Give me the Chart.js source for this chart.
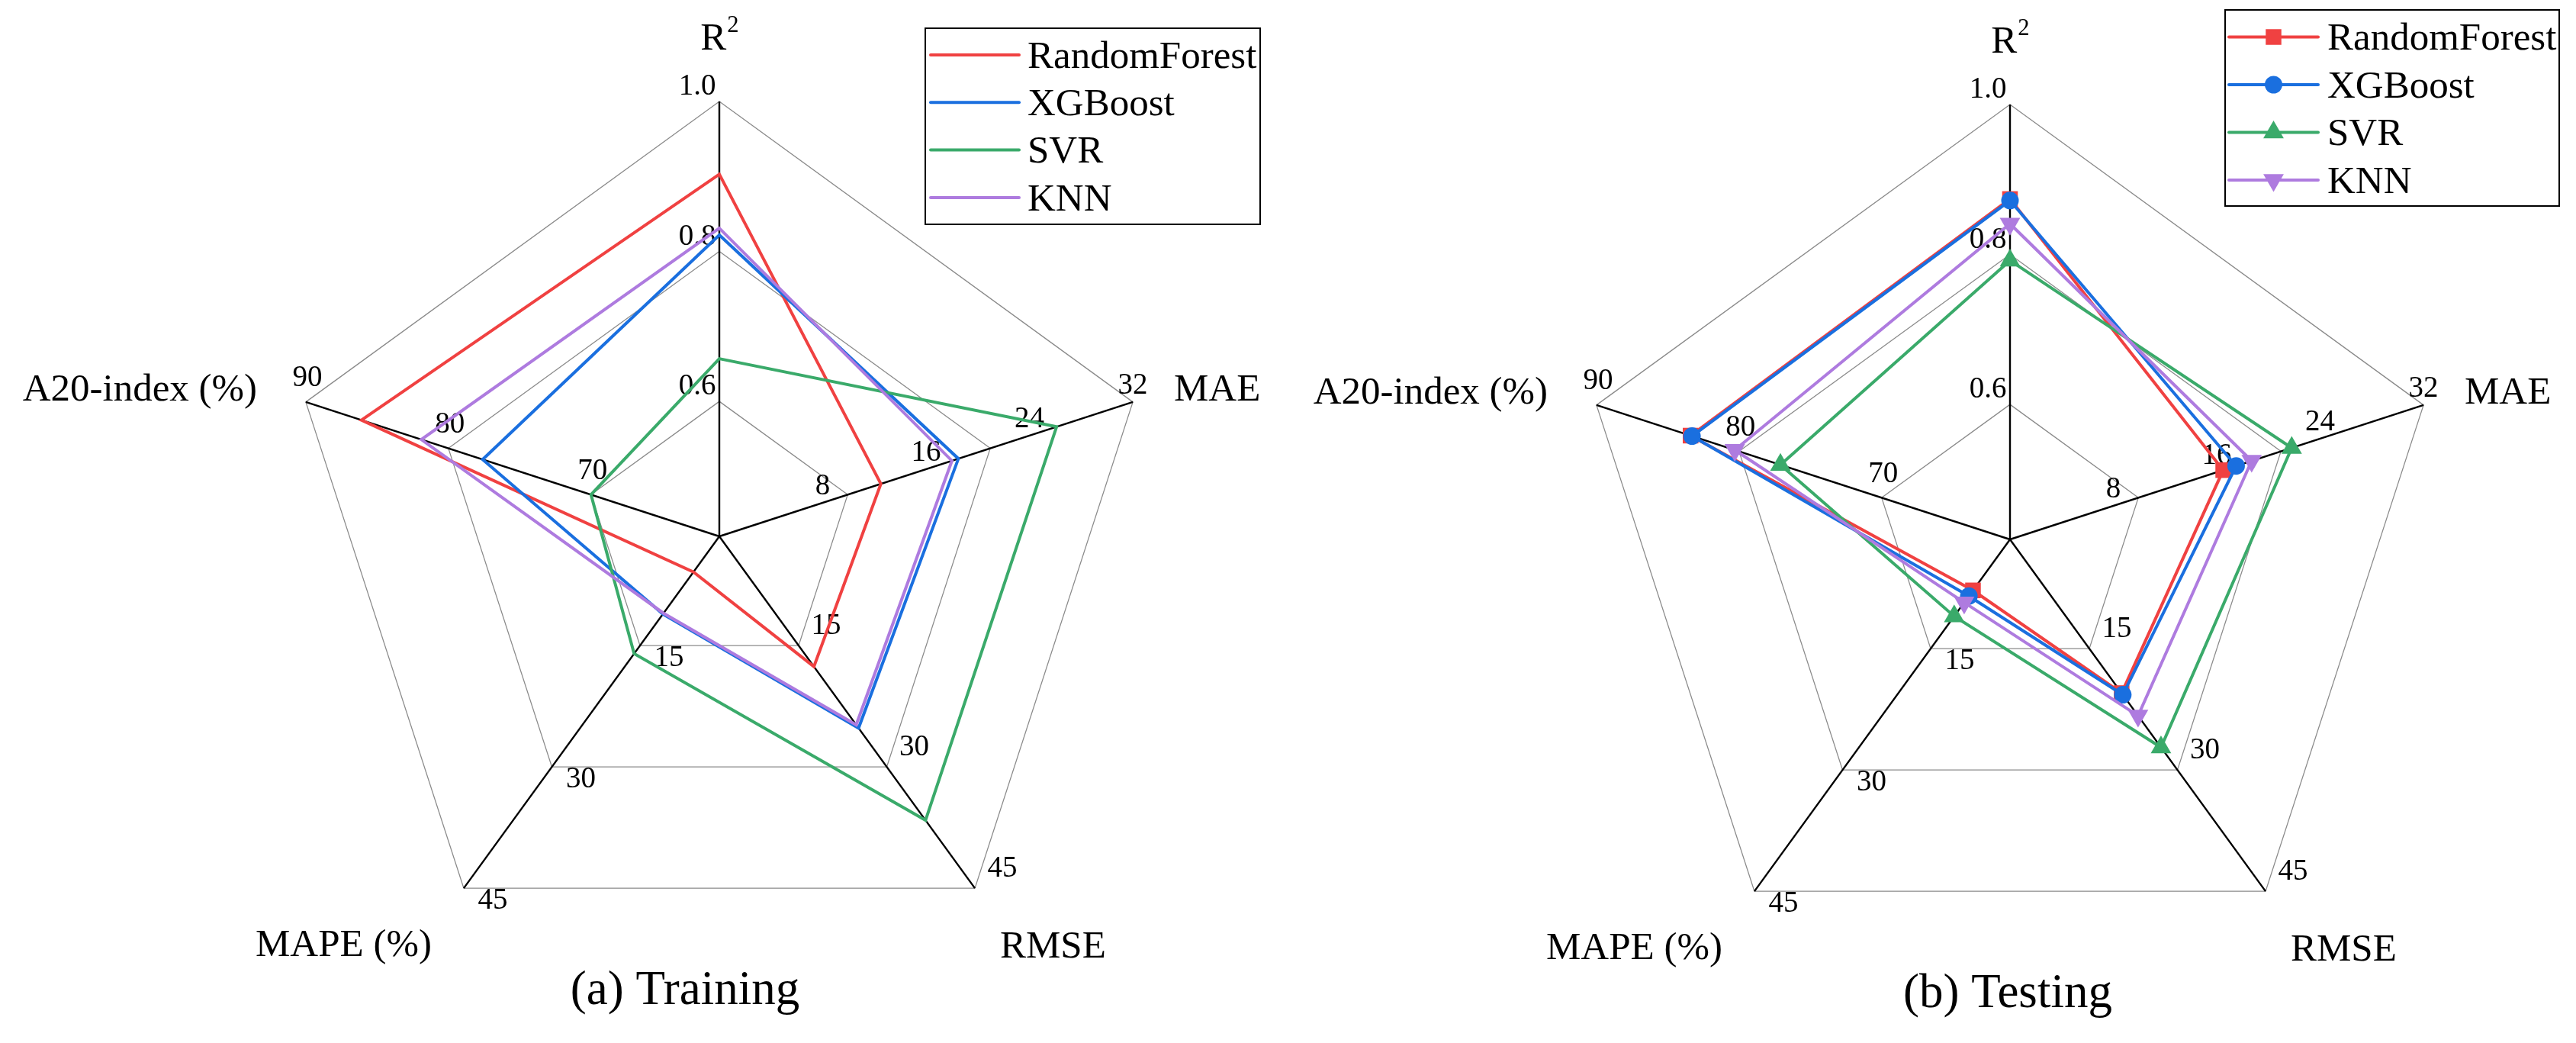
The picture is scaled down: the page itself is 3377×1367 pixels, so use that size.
<!DOCTYPE html>
<html>
<head>
<meta charset="utf-8">
<script src="https://cdn.jsdelivr.net/npm/chart.js@4.4.0/dist/chart.umd.min.js"></script>
<style>
  html, body { margin: 0; padding: 0; background: #fff; }
  #wrap { position: relative; width: 3377px; height: 1367px; }
  .panel { position: absolute; top: 0; height: 1367px; }
  #panel_train { left: 0; width: 1688px; }
  #panel_test { left: 1688px; width: 1689px; }
</style>
</head>
<body>
<div id="wrap">
  <div class="panel" id="panel_train"><canvas id="train" width="1688" height="1367"></canvas></div>
  <div class="panel" id="panel_test"><canvas id="test" width="1689" height="1367"></canvas></div>
</div>
<script>
const models = ['RandomForest', 'XGBoost', 'SVR', 'KNN'];
const axisLabels = ['R²', 'MAE', 'RMSE', 'MAPE (%)', 'A20-index (%)'];

// value at the centre and at the outer ring of every spoke
const axisMin = [0.42, 0, 1.5, 1.5, 61];
const axisMax = [1.0, 32, 45, 45, 90];

const r2Ticks = [0.6, 0.8, 1.0];
const maeTicks = [8, 16, 24, 32];
const rmseTicks = [15, 30, 45];
const mapeTicks = [15, 30, 45];
const a20Ticks = [70, 80, 90];
const axisTicks = [r2Ticks, maeTicks, rmseTicks, mapeTicks, a20Ticks];

// R2, MAE, RMSE, MAPE, A20
const trainRF  = [0.903, 12.5, 17.6, 5.9, 86.1];
const trainXGB = [0.822, 18.5, 25.2, 11.1, 77.6];
const trainSVR = [0.657, 26.1, 36.6, 16.0, 70.0];
const trainKNN = [0.831, 18.0, 24.8, 11.0, 81.9];

const testRF  = [0.874, 16.5, 20.5, 7.8, 83.4];
const testXGB = [0.872, 17.5, 20.7, 8.5, 83.3];
const testSVR = [0.792, 21.8, 27.2, 11.0, 77.1];
const testKNN = [0.841, 18.7, 23.3, 9.3, 80.3];

const colors = ['#f04141', '#1a6fdf', '#3aaa6a', '#ae7bdf'];
const markers = [
  { style: 'rect', radius: 14.5, rotation: 0 },
  { style: 'circle', radius: 11.5, rotation: 0 },
  { style: 'triangle', radius: 15.5, rotation: 0 },
  { style: 'triangle', radius: 15.5, rotation: 180 }
];

const FONT = '"Liberation Serif", "Times New Roman", serif';

// label offsets from the tick point (label centre), one per spoke
const tickOffsets = [[-29, -22], [0, -24], [36, -28], [38, 14], [2, -34]];
// title anchor relative to centre: dx, baseline dy, align
const titlePos = [[0, -638, 'center'], [596, -178, 'left'], [368, 552, 'left'], [-608, 550, 'left'], [-606, -178, 'right']];

function toFrac(i, v) {
  return (v - axisMin[i]) / (axisMax[i] - axisMin[i]);
}
function fmtTick(i, v) {
  return i === 0 ? v.toFixed(1) : String(v);
}

const ringLevels = [0].concat(r2Ticks.map(v => toFrac(0, v)));

const spokeText = {
  id: 'spokeText',
  beforeDatasetsDraw(chart, args, opts) {
    const ctx = chart.ctx;
    const s = chart.scales.r;
    ctx.save();
    ctx.fillStyle = '#000';
    ctx.textBaseline = 'alphabetic';

    // tick labels
    const ts = opts.tickSize;
    ctx.font = `${ts}px ${FONT}`;
    ctx.textAlign = 'center';
    axisTicks.forEach((ticks, i) => {
      ticks.forEach(t => {
        const p = s.getPointPosition(i, s.getDistanceFromCenterForValue(toFrac(i, t)));
        ctx.fillText(fmtTick(i, t), p.x + tickOffsets[i][0], p.y + tickOffsets[i][1] + 0.34 * ts);
      });
    });

    // spoke titles
    const fs = opts.titleSize;
    axisLabels.forEach((lab, i) => {
      const [dx, dy, align] = titlePos[i];
      const x = s.xCenter + dx, y = s.yCenter + dy;
      if (lab.endsWith('²')) {
        const base = lab.slice(0, -1);
        ctx.font = `${fs}px ${FONT}`;
        const wb = ctx.measureText(base).width;
        ctx.font = `${fs * 0.6}px ${FONT}`;
        const ws = ctx.measureText('2').width;
        const x0 = x - (wb + ws) / 2;
        ctx.textAlign = 'left';
        ctx.font = `${fs}px ${FONT}`;
        ctx.fillText(base, x0, y);
        ctx.font = `${fs * 0.6}px ${FONT}`;
        ctx.fillText('2', x0 + wb + 1, y - fs * 0.45);
      } else {
        ctx.font = `${fs}px ${FONT}`;
        ctx.textAlign = align;
        ctx.fillText(lab, x, y);
      }
    });

    // caption
    ctx.font = `${opts.captionSize}px ${FONT}`;
    ctx.textAlign = 'center';
    ctx.fillText(opts.caption, s.xCenter + opts.captionDx, s.yCenter + opts.captionDy);
    ctx.restore();
  }
};

function drawMarker(ctx, ds, x, y) {
  if (!ds.pointRadius) return;
  ctx.fillStyle = ds.pointBackgroundColor;
  Chart.helpers.drawPoint(ctx, {
    pointStyle: ds.pointStyle,
    rotation: ds.pointRotation || 0,
    radius: ds.pointRadius,
    borderWidth: 0
  }, x, y);
}

const boxLegend = {
  id: 'boxLegend',
  afterDraw(chart, args, o) {
    const ctx = chart.ctx;
    ctx.save();
    ctx.strokeStyle = '#000';
    ctx.lineWidth = 2;
    ctx.strokeRect(o.x, o.y, o.w, o.h);
    ctx.font = `${o.fontSize}px ${FONT}`;
    ctx.textAlign = 'left';
    ctx.textBaseline = 'alphabetic';
    chart.data.datasets.forEach((ds, i) => {
      const y = o.firstRow + i * o.rowGap;
      ctx.strokeStyle = ds.borderColor;
      ctx.lineWidth = ds.borderWidth;
      ctx.lineCap = 'round';
      ctx.beginPath();
      ctx.moveTo(o.lineX0, y);
      ctx.lineTo(o.lineX1, y);
      ctx.stroke();
      drawMarker(ctx, ds, (o.lineX0 + o.lineX1) / 2, y);
      ctx.fillStyle = '#000';
      ctx.fillText(ds.label, o.textX, y + 0.33 * o.fontSize);
    });
    ctx.restore();
  }
};

function makeDatasets(series, withMarkers) {
  return series.map((vals, k) => ({
    label: models[k],
    data: vals.map((v, i) => toFrac(i, v)),
    borderColor: colors[k],
    backgroundColor: colors[k],
    borderWidth: 4,
    fill: false,
    order: series.length - k,
    pointRadius: withMarkers ? markers[k].radius : 0,
    pointHoverRadius: withMarkers ? markers[k].radius : 0,
    pointStyle: markers[k].style,
    pointRotation: markers[k].rotation,
    pointBackgroundColor: colors[k],
    pointBorderColor: colors[k],
    pointBorderWidth: 0
  }));
}

function makeRadar(canvasId, series, withMarkers, pad, textOpts, legendOpts) {
  return new Chart(document.getElementById(canvasId), {
    type: 'radar',
    data: {
      labels: axisLabels,
      datasets: makeDatasets(series, withMarkers)
    },
    options: {
      responsive: false,
      animation: false,
      layout: { padding: pad },
      elements: { line: { tension: 0 } },
      scales: {
        r: {
          min: 0,
          max: 1,
          afterBuildTicks: s => { s.ticks = ringLevels.map(v => ({ value: v })); },
          ticks: { display: false },
          grid: { color: '#8a8a8a', lineWidth: 1.3 },
          angleLines: { color: '#000', lineWidth: 2.4 },
          pointLabels: { display: false }
        }
      },
      plugins: {
        legend: { display: false },
        tooltip: { enabled: false },
        spokeText: textOpts,
        boxLegend: legendOpts
      }
    },
    plugins: [spokeText, boxLegend]
  });
}

makeRadar('train', [trainRF, trainXGB, trainSVR, trainKNN], false,
  { left: 373, right: 175, top: 133, bottom: 94 },
  { tickSize: 39, titleSize: 51, captionSize: 63, caption: '(a) Training', captionDx: -45, captionDy: 613 },
  { x: 1213, y: 37, w: 439, h: 257, firstRow: 72, rowGap: 62.3, lineX0: 1220, lineX1: 1336, textX: 1347, fontSize: 51 });

makeRadar('test', [testRF, testXGB, testSVR, testKNN], true,
  { left: 377, right: 172, top: 137, bottom: 90 },
  { tickSize: 39, titleSize: 51, captionSize: 63, caption: '(b) Testing', captionDx: -3, captionDy: 613 },
  { x: 1229, y: 13, w: 438, h: 257, firstRow: 48.5, rowGap: 62.5, lineX0: 1234, lineX1: 1351, textX: 1363, fontSize: 51 });
</script>
</body>
</html>
